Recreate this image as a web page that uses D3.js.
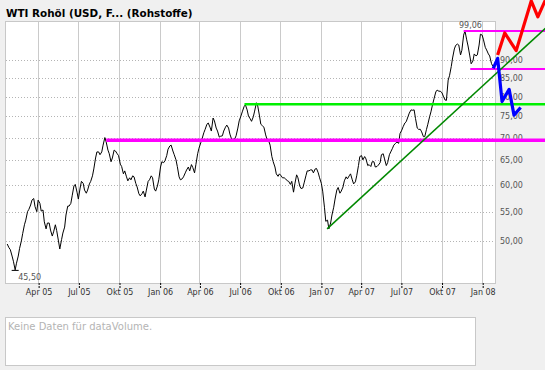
<!DOCTYPE html>
<html><head><meta charset="utf-8">
<script src="https://cdn.jsdelivr.net/npm/d3@7"></script>
<style>body{margin:0;background:#f0f0f0;} svg{display:block;}</style>
</head><body><svg id="c" width="545" height="370"></svg>
<script>
const titleText = "WTI Rohöl (USD, F... (Rohstoffe)";
const noDataText = "Keine Daten für dataVolume.";
const startDate = "2005-01-21"; // first Friday
// Friday closes
const fridayCloses = [
49.5,48.6,46.8,46.5,48.8,51.2,53.5,55.4,57.1,55.9,
57.1,55.1,53.2,53.0,51.8,51.5,51.7,48.7,51.3,54.4,
56.0,57.9,60.1,57.3,60.7,59.0,59.0,60.7,63.2,66.8,
66.2,68.3,69.0,66.4,65.5,67.0,66.0,63.7,62.8,60.8,
61.0,61.6,59.6,57.9,58.8,59.0,61.0,61.4,58.8,61.0,
64.7,64.9,67.4,68.3,66.2,63.7,61.0,61.6,63.0,62.8,
63.5,64.1,67.6,69.7,71.9,73.4,71.5,73.9,71.5,70.3,
71.5,72.9,70.8,69.6,70.4,73.9,76.1,77.9,75.1,73.8,
76.3,77.6,73.1,72.4,69.6,68.3,64.7,62.2,62.2,61.4,
61.2,60.7,60.7,60.2,61.4,59.3,60.4,62.8,63.0,62.4,
63.3,61.4,58.8,53.3,52.0,54.4,57.3,59.5,58.8,60.8,
61.2,62.2,60.2,61.8,65.8,65.1,65.3,64.1,64.7,63.6,
64.0,66.2,65.3,64.5,66.8,68.3,69.0,70.9,72.5,73.7,
75.8,76.5,74.5,71.9,71.3,70.2,73.1,76.1,79.4,81.7,
81.4,80.1,79.0,85.6,90.7,94.5,94.6,93.0,99.06,94.3,
89.0,91.9,91.6,98.0,96.2,93.1,91.3,88.3
];
// following Tuesday closes
const tuesdayCloses = [
48.9,47.6,45.5,47.6,50.0,52.7,55.0,56.2,57.4,55.0,
56.5,55.3,52.0,53.0,50.8,52.7,50.0,50.2,52.3,56.0,
56.5,59.8,58.6,59.4,60.3,58.4,60.2,61.8,65.5,66.8,
66.8,70.0,67.2,64.7,67.2,66.4,64.2,62.2,61.6,61.4,
61.8,60.3,58.3,58.3,57.7,60.7,61.8,59.2,59.8,63.6,
64.5,66.0,68.1,67.0,65.1,61.6,61.2,62.4,63.6,64.1,
62.4,66.4,68.8,71.1,73.1,72.4,74.6,72.2,70.1,70.4,
72.4,72.2,69.6,69.7,72.2,75.1,77.4,76.6,74.4,74.9,
78.4,75.1,72.7,70.6,69.2,65.8,63.6,61.7,61.8,61.4,
60.8,60.1,58.6,62.0,59.8,59.4,61.8,62.8,63.0,63.2,
62.4,60.3,55.8,53.5,53.0,55.8,59.0,58.4,59.6,61.6,
61.8,61.0,60.6,63.9,66.0,65.8,63.9,63.7,64.7,63.7,
64.5,66.4,63.9,66.2,67.6,68.7,68.7,71.7,73.4,74.9,
76.6,76.6,72.2,71.9,70.2,71.9,74.9,78.1,81.2,81.4,
81.0,79.1,84.4,88.2,93.4,94.9,91.6,97.7,96.2,91.3,
89.8,91.3,94.6,97.7,93.9,91.9,89.1
];
const xDomain = ["2005-01-16", "2008-01-30"];
const yDomain = [43.6, 102.3];
const xTickDates = ["2005-04-01","2005-07-01","2005-10-01","2006-01-01","2006-04-01","2006-07-01","2006-10-01","2007-01-01","2007-04-01","2007-07-01","2007-10-01","2008-01-01"];
const xTickLabels = ["Apr 05","Jul 05","Okt 05","Jan 06","Apr 06","Jul 06","Okt 06","Jan 07","Apr 07","Jul 07","Okt 07","Jan 08"];
const yTicks = [50,55,60,65,70,75,80,85,90];
// drawn annotations (date, value)
const annotationEnd = "2008-05-23";
const magentaLevels = [["2005-09-02",69.4],["2007-11-20",99.0],["2007-12-05",87.5]];
const greenLevel = [["2006-07-12",78.0]];
const trendLine = [["2007-01-15",52.0],["2008-05-23",99.9]];
const redPath = [["2008-02-05",91.6],["2008-02-21",98.4],["2008-03-18",92.9],["2008-04-21",109.2],["2008-05-06",103.7],["2008-05-23",109.5]];
const bluePath = [["2008-01-26",87.7],["2008-02-05",90.6],["2008-02-15",78.7],["2008-03-02",81.9],["2008-03-13",75.3],["2008-03-28",77.2]];

const parse = d3.timeParse("%Y-%m-%d");
const svg = d3.select("#c");
const P = {x:5, y:21, w:490, h:262};
const x = d3.scaleTime().domain(xDomain.map(parse)).range([P.x, P.x+P.w]);
const y = d3.scaleLog().domain(yDomain).range([P.y+P.h, P.y]);
const de = d3.formatLocale({decimal:",", thousands:".", grouping:[3], currency:["","€"]});
const fmt = de.format(".2f");
const FONT = "DejaVu Sans, Verdana, sans-serif";

const data = [];
fridayCloses.forEach((v,i)=>{
  const fri = d3.timeDay.offset(parse(startDate), 7*i);
  data.push({d:fri, v});
  if (i < tuesdayCloses.length) data.push({d:d3.timeDay.offset(fri,4), v:tuesdayCloses[i]});
});

svg.append("text").attr("x",6).attr("y",16.5)
  .attr("font-family",FONT).attr("font-weight","bold")
  .attr("font-size","10.4px").attr("fill","#000").text(titleText);

svg.append("rect").attr("x",P.x+0.5).attr("y",P.y+0.5).attr("width",P.w).attr("height",P.h)
  .attr("fill","#fff").attr("stroke","#c8c8c8");

const g = svg.append("g");
g.selectAll("line.hg").data(yTicks).join("line")
  .attr("x1",P.x+1).attr("x2",P.x+P.w)
  .attr("y1",d=>Math.round(y(d))+0.5).attr("y2",d=>Math.round(y(d))+0.5)
  .attr("stroke","#b4b4b4").attr("stroke-dasharray","1,2");
g.selectAll("line.vg").data(xTickDates.map(parse)).join("line")
  .attr("x1",d=>Math.round(x(d))+0.5).attr("x2",d=>Math.round(x(d))+0.5)
  .attr("y1",P.y+1).attr("y2",P.y+P.h)
  .attr("stroke","#cacaca");

const xa = svg.append("g").attr("transform",`translate(0.5,${P.y+P.h})`)
  .call(d3.axisBottom(x).tickValues(xTickDates.map(parse)).tickFormat((d,i)=>xTickLabels[i]).tickSize(5).tickPadding(1));
xa.select(".domain").remove();
xa.selectAll(".tick line").attr("stroke","#000").attr("stroke-dasharray","2,1");
xa.selectAll(".tick text").attr("font-family",FONT).attr("font-size","8px").attr("fill","#333");

const ya = svg.append("g").attr("transform",`translate(${P.x+P.w},0)`)
  .call(d3.axisRight(y).tickValues(yTicks).tickFormat(fmt).tickSize(0).tickPadding(5));
ya.select(".domain").remove();
ya.selectAll(".tick text").attr("font-family",FONT).attr("font-size","8px").attr("fill","#555");

svg.append("path").datum(data)
  .attr("d", d3.line().x(d=>x(d.d)).y(d=>y(d.v)))
  .attr("fill","none").attr("stroke","#000").attr("stroke-width",1);

const mn = data.reduce((a,b)=>b.v<a.v?b:a), mx = data.reduce((a,b)=>b.v>a.v?b:a);
svg.append("line").attr("x1",x(mn.d)-3.5).attr("x2",x(mn.d)+3.5).attr("y1",y(mn.v)+0.5).attr("y2",y(mn.v)+0.5).attr("stroke","#000");
svg.append("text").attr("x",x(mn.d)+3).attr("y",y(mn.v)+10.5)
  .attr("font-family",FONT).attr("font-size","8px").attr("fill","#555").text(fmt(mn.v));
svg.append("text").attr("x",x(mx.d)-6).attr("y",y(mx.v)-3)
  .attr("font-family",FONT).attr("font-size","8px").attr("fill","#555").text(fmt(mx.v));

const endD = parse(annotationEnd);
const mW = [3.5,2,2];
magentaLevels.forEach((m,i)=>{
  svg.append("line").attr("x1",x(parse(m[0]))).attr("x2",x(endD))
    .attr("y1",y(m[1])).attr("y2",y(m[1])).attr("stroke","#ff00ff").attr("stroke-width",mW[i]);
});
greenLevel.forEach(m=>{
  svg.append("line").attr("x1",x(parse(m[0]))).attr("x2",x(endD))
    .attr("y1",y(m[1])).attr("y2",y(m[1])).attr("stroke","#00f000").attr("stroke-width",2.5);
});
const pl = d3.line().x(d=>x(parse(d[0]))).y(d=>y(d[1]));
svg.append("path").attr("d",pl(trendLine)).attr("fill","none").attr("stroke","#008800").attr("stroke-width",1.5);
svg.append("path").attr("d",pl(redPath)).attr("fill","none").attr("stroke","#ff0000").attr("stroke-width",3.2).attr("stroke-linejoin","round");
svg.append("path").attr("d",pl(bluePath)).attr("fill","none").attr("stroke","#0000ff").attr("stroke-width",3.2).attr("stroke-linejoin","round");

svg.append("rect").attr("x",5.5).attr("y",317.5).attr("width",470).attr("height",48)
  .attr("fill","#fff").attr("stroke","#c8c8c8");
svg.append("text").attr("x",8).attr("y",329.5)
  .attr("font-family",FONT).attr("font-size","10px").attr("fill","#b4b4b4").text(noDataText);
</script></body></html>
